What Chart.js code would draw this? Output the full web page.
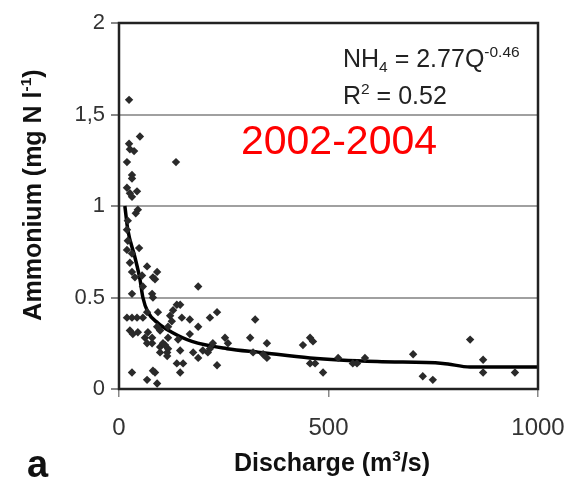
<!DOCTYPE html>
<html>
<head>
<meta charset="utf-8">
<script src="https://cdn.jsdelivr.net/npm/chart.js@4"></script>
<style>
	html, body { margin: 0; padding: 0; background: #fff; }
	#wrap { width: 572px; height: 482px; }
</style>
</head>
<body>
<div id="wrap"><canvas id="ammoniumChart"></canvas></div>
<script>
// Discharge (m3/s) vs ammonium (mg N/l), 2002-2004
const dischargeQ = [24, 50, 24, 26, 36, 19, 136, 31, 31, 19, 43, 31, 45, 40, 26, 21, 19, 21, 19, 31,
	48, 26, 31, 38, 67, 91, 81, 55, 57, 31, 79, 81, 189, 19, 31, 43, 57, 26, 33, 45,
	62, 69, 79, 67, 79, 98, 105, 115, 117, 98, 91, 98, 122, 129, 138, 146, 126, 117, 150, 117,
	141, 146, 138, 146, 31, 67, 81, 91, 169, 189, 169, 217, 234, 177, 189, 200, 212, 224, 234, 217,
	253, 260, 313, 325, 353, 320, 344, 353, 439, 456, 463, 456, 468, 487, 523, 558, 568, 587, 702, 725,
	749, 838, 869, 869, 945, 67, 86, 110, 115, 153, 86, 93];
const ammoniumV = [1.58, 1.38, 1.34, 1.31, 1.30, 1.24, 1.24, 1.17, 1.15, 1.10, 1.08, 1.05, 0.98, 0.96, 1.07, 0.92, 0.87, 0.81, 0.76, 0.74,
	0.77, 0.69, 0.64, 0.61, 0.67, 0.64, 0.61, 0.62, 0.56, 0.52, 0.52, 0.50, 0.56, 0.39, 0.39, 0.39, 0.39, 0.32, 0.30, 0.31,
	0.28, 0.31, 0.28, 0.25, 0.25, 0.23, 0.25, 0.20, 0.22, 0.20, 0.34, 0.32, 0.40, 0.43, 0.46, 0.46, 0.37, 0.34, 0.39, 0.28,
	0.27, 0.21, 0.14, 0.09, 0.09, 0.05, 0.10, 0.03, 0.38, 0.34, 0.30, 0.39, 0.42, 0.20, 0.17, 0.21, 0.20, 0.25, 0.13, 0.22,
	0.28, 0.25, 0.28, 0.38, 0.25, 0.20, 0.19, 0.17, 0.24, 0.28, 0.26, 0.14, 0.14, 0.09, 0.17, 0.14, 0.14, 0.17, 0.19, 0.07,
	0.05, 0.27, 0.16, 0.09, 0.09, 0.42, 0.60, 0.24, 0.18, 0.14, 0.09, 0.42];

// power trendline
const trendQ = [14, 21, 38, 50, 57, 69, 93, 126, 174, 258, 337, 456, 616, 773, 838, 998];
const trendV = [1.0, 0.87, 0.72, 0.60, 0.50, 0.42, 0.36, 0.31, 0.26, 0.22, 0.20, 0.17, 0.15, 0.14, 0.12, 0.12];

const xTicks = [0, 500, 1000];
const xTickLabels = ['0', '500', '1000'];
const yTicks = [0, 0.5, 1, 1.5, 2];
const yTickLabels = ['0', '0.5', '1', '1,5', '2'];

const FONT = '"Liberation Sans", Arial, sans-serif';

// draws a string made of normal / sup / sub pieces
function richWidth(ctx, parts, size, weight) {
	let w = 0;
	parts.forEach(p => {
		const s = p[1] ? size * 0.62 : size;
		ctx.font = weight + ' ' + s + 'px ' + FONT;
		w += ctx.measureText(p[0]).width;
	});
	return w;
}
function richText(ctx, parts, x, y, size, weight) {
	ctx.textBaseline = 'alphabetic';
	ctx.textAlign = 'left';
	parts.forEach(p => {
		let s = size, dy = 0;
		if (p[1] === 'sup') { s = size * 0.62; dy = -size * 0.42; }
		if (p[1] === 'sub') { s = size * 0.62; dy = size * 0.2; }
		ctx.font = weight + ' ' + s + 'px ' + FONT;
		ctx.fillText(p[0], x, y + dy);
		x += ctx.measureText(p[0]).width;
	});
}

const textPlugin = {
	id: 'texts',
	afterDraw(chart) {
		const ctx = chart.ctx;
		const a = chart.chartArea;
		ctx.save();
		// frame
		ctx.strokeStyle = '#222';
		ctx.lineWidth = 2.5;
		ctx.strokeRect(a.left, a.top, a.right - a.left, a.bottom - a.top);

		ctx.fillStyle = '#222';
		richText(ctx, [['NH'], ['4', 'sub'], [' = 2.77Q'], ['-0.46', 'sup']], 343, 67, 25, 'normal');
		richText(ctx, [['R'], ['2', 'sup'], [' = 0.52']], 343, 104, 25, 'normal');

		ctx.fillStyle = '#ff0000';
		ctx.font = '41px ' + FONT;
		ctx.textAlign = 'center';
		ctx.textBaseline = 'middle';
		ctx.fillText('2002-2004', 339, 143);

		ctx.fillStyle = '#111';
		const xt = [['Discharge (m'], ['3', 'sup'], ['/s)']];
		const xw = richWidth(ctx, xt, 25, 'bold');
		richText(ctx, xt, 332 - xw / 2, 471, 25, 'bold');

		const yt = [['Ammonium (mg N l'], ['-1', 'sup'], [')']];
		const yw = richWidth(ctx, yt, 25, 'bold');
		ctx.translate(41, 195);
		ctx.rotate(-Math.PI / 2);
		richText(ctx, yt, -yw / 2, 0, 25, 'bold');
		ctx.setTransform(1, 0, 0, 1, 0, 0);

		ctx.font = 'bold 38px ' + FONT;
		ctx.textAlign = 'left';
		ctx.textBaseline = 'alphabetic';
		ctx.fillText('a', 27, 477);
		ctx.restore();
	}
};

new Chart(document.getElementById('ammoniumChart'), {
	type: 'scatter',
	data: {
		datasets: [{
			label: 'NH4',
			data: dischargeQ.map((q, i) => ({ x: q, y: ammoniumV[i] })),
			pointStyle: 'rectRot',
			pointRadius: 4.2,
			backgroundColor: '#2a2a2a',
			borderWidth: 0
		}, {
			label: 'Trend',
			data: trendQ.map((q, i) => ({ x: q, y: trendV[i] })),
			showLine: true,
			pointRadius: 0,
			borderColor: '#000',
			borderWidth: 3.5,
			cubicInterpolationMode: 'monotone'
		}]
	},
	options: {
		responsive: true,
		maintainAspectRatio: false,
		animation: false,
		layout: { padding: { top: 23, left: 0, right: 34, bottom: 0 } },
		plugins: { legend: { display: false }, tooltip: { enabled: false } },
		scales: {
			x: {
				type: 'linear',
				min: 0,
				max: 1000,
				afterFit: s => { s.height = 93; s.paddingLeft = 0; s.paddingRight = 0; },
				afterBuildTicks: s => { s.ticks = xTicks.map(v => ({ value: v })); },
				border: { display: false },
				grid: { drawOnChartArea: false, tickLength: 8, tickColor: '#888', lineWidth: 1.5 },
				ticks: {
					color: '#333',
					font: { family: FONT, size: 24 },
					padding: 17,
					maxRotation: 0,
					callback: v => xTickLabels[xTicks.indexOf(v)]
				}
			},
			y: {
				min: 0,
				max: 2,
				afterFit: s => { s.width = 119; s.paddingTop = 0; s.paddingBottom = 0; },
				afterBuildTicks: s => { s.ticks = yTicks.map(v => ({ value: v })); },
				border: { display: false },
				grid: { color: '#a0a0a0', lineWidth: 2, tickLength: 8, tickColor: '#888' },
				ticks: {
					color: '#333',
					font: { family: FONT, size: 22 },
					padding: 6,
					callback: v => yTickLabels[yTicks.indexOf(v)]
				}
			}
		}
	},
	plugins: [textPlugin]
});
</script>
</body>
</html>
